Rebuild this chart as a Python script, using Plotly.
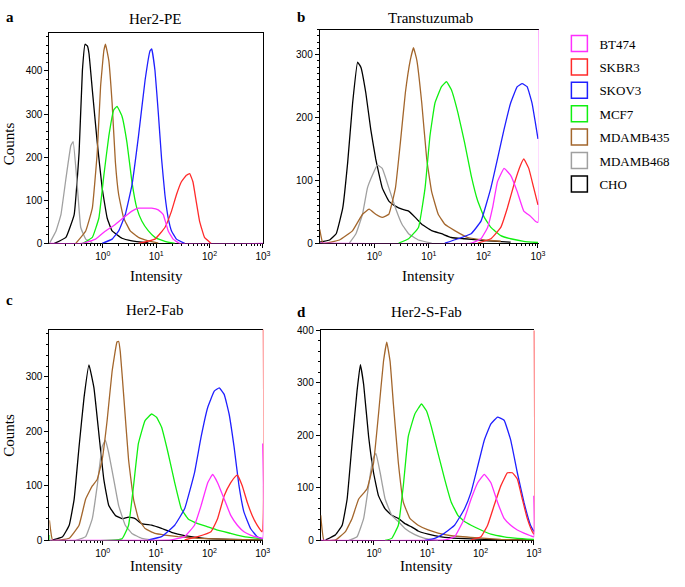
import plotly.graph_objects as go

# ---------------- data: log10(intensity) and counts ----------------
CELL_LINES = ["BT474", "SKBR3", "SKOV3", "MCF7", "MDAMB435", "MDAMB468", "CHO"]
PANEL_TITLES = ["Her2-PE", "Transtuzumab", "Her2-Fab", "Her2-S-Fab"]
PANEL_LETTERS = ["a", "b", "c", "d"]
X_TICK_VALUES = [1, 10, 100, 1000]
X_TICK_LABELS = ["10<sup>0</sup>", "10<sup>1</sup>", "10<sup>2</sup>", "10<sup>3</sup>"]
Y_TICKS_A = [0, 100, 200, 300, 400]
Y_TICKS_B = [0, 100, 200, 300]
Y_TICKS_C = [0, 100, 200, 300]
Y_TICKS_D = [0, 100, 200, 300, 400]

# Panel a: Her2-PE
A_CHO_LOGI = [-0.907, -0.691, -0.536, -0.444, -0.382, -0.332, -0.289, -0.258, -0.196, -0.104, -0.011, 0.082, 0.175, 0.360, 0.546, 0.855]
A_CHO_COUNT = [0, 14, 67, 211, 401, 462, 458, 440, 356, 234, 128, 59, 29, 12, 6, 1]
A_MDAMB468_LOGI = [-1.0, -0.876, -0.784, -0.691, -0.598, -0.555, -0.474, -0.413, -0.320, -0.196]
A_MDAMB468_COUNT = [0, 29, 67, 150, 227, 236, 128, 37, 10, 2]
A_MDAMB435_LOGI = [-0.506, -0.320, -0.196, -0.104, -0.042, 0.020, 0.051, 0.113, 0.175, 0.236, 0.298, 0.391, 0.515, 0.669, 0.855, 1.04]
A_MDAMB435_COUNT = [0, 29, 82, 211, 363, 447, 462, 424, 325, 189, 113, 59, 29, 14, 6, 1]
A_MCF7_LOGI = [-0.382, -0.196, -0.073, 0.020, 0.113, 0.206, 0.267, 0.360, 0.453, 0.546, 0.638, 0.731, 0.855, 0.978, 1.164, 1.349]
A_MCF7_COUNT = [0, 14, 59, 158, 249, 310, 318, 295, 234, 143, 82, 52, 29, 14, 5, 0]
A_SKOV3_LOGI = [-0.011, 0.175, 0.298, 0.422, 0.546, 0.669, 0.793, 0.886, 0.917, 0.978, 1.040, 1.102, 1.164, 1.226, 1.288, 1.380, 1.535]
A_SKOV3_COUNT = [0, 10, 29, 67, 135, 249, 379, 447, 451, 401, 303, 196, 113, 59, 29, 10, 0]
A_SKBR3_LOGI = [0.669, 0.978, 1.164, 1.288, 1.380, 1.473, 1.566, 1.628, 1.689, 1.751, 1.813, 1.906, 2.029]
A_SKBR3_COUNT = [0, 10, 37, 75, 113, 143, 158, 162, 143, 97, 52, 14, 0]
A_BT474_LOGI = [-1.0, -0.382, -0.134, 0.051, 0.236, 0.422, 0.546, 0.669, 0.793, 0.917, 1.040, 1.133, 1.226, 1.318, 1.442, 3.0]
A_BT474_COUNT = [0, 0, 10, 29, 44, 63, 75, 82, 82, 82, 78, 67, 29, 10, 0, 0]

# Panel b: Transtuzumab
B_CHO_LOGI = [-1.0, -0.819, -0.698, -0.578, -0.487, -0.397, -0.306, -0.246, -0.155, -0.065, 0.026, 0.146, 0.267, 0.388, 0.508, 0.629, 0.750, 0.870, 1.051, 1.232, 1.413, 1.655, 2.017, 2.499]
B_CHO_COUNT = [1.5, 5, 15, 56, 129, 223, 288, 280, 239, 181, 134, 88, 67, 59, 54, 51, 41, 30, 20, 15, 9, 7, 4, 1.5]
B_MDAMB468_LOGI = [-0.457, -0.336, -0.216, -0.125, -0.035, 0.056, 0.146, 0.267, 0.388, 0.508, 0.629, 0.810, 1.051]
B_MDAMB468_COUNT = [0, 15, 46, 88, 108, 124, 119, 88, 56, 30, 15, 5, 0]
B_MDAMB435_LOGI = [-1.0, -0.94, -0.638, -0.397, -0.216, -0.095, 0.026, 0.146, 0.267, 0.388, 0.478, 0.569, 0.659, 0.719, 0.780, 0.870, 0.961, 1.051, 1.172, 1.293, 1.474, 1.715, 2.017, 2.318]
B_MDAMB435_COUNT = [22, 0, 5, 20, 46, 54, 46, 41, 46, 88, 160, 239, 291, 311, 291, 223, 134, 82, 46, 30, 20, 9, 5, 3]
B_MCF7_LOGI = [0.448, 0.629, 0.810, 0.931, 1.021, 1.112, 1.232, 1.323, 1.413, 1.534, 1.655, 1.775, 1.896, 2.017, 2.137, 2.318, 2.499, 2.740, 3.0]
B_MCF7_COUNT = [0, 7, 25, 88, 171, 223, 249, 257, 244, 207, 160, 108, 67, 41, 25, 12, 7, 3, 1]
B_SKOV3_LOGI = [1.293, 1.534, 1.775, 1.956, 2.137, 2.258, 2.378, 2.499, 2.620, 2.710, 2.801, 2.891, 2.952, 3.0]
B_SKOV3_COUNT = [0, 7, 15, 35, 88, 134, 181, 223, 249, 254, 249, 223, 192, 166]
B_SKBR3_LOGI = [1.896, 2.137, 2.318, 2.439, 2.559, 2.680, 2.740, 2.831, 2.922, 3.0]
B_SKBR3_COUNT = [0, 7, 25, 56, 93, 124, 134, 119, 88, 61]
B_BT474_LOGI = [-1.0, 1.775, 1.956, 2.077, 2.167, 2.258, 2.378, 2.499, 2.620, 2.740, 2.861, 2.952, 3.0, 3.0]
B_BT474_COUNT = [0, 0, 7, 25, 56, 98, 119, 108, 82, 51, 43, 35, 33, 600]

# Panel c: Her2-Fab
C_CHO_LOGI = [-0.938, -0.753, -0.629, -0.536, -0.444, -0.351, -0.258, -0.165, -0.073, 0.020, 0.113, 0.236, 0.360, 0.484, 0.607, 0.731, 0.917, 1.102, 1.288, 1.535, 1.906, 2.400, 3.0]
C_CHO_COUNT = [1, 7, 28, 76, 172, 262, 322, 280, 196, 112, 64, 46, 40, 43, 40, 31, 28, 22, 15, 9, 4, 2, 1]
C_MDAMB468_LOGI = [-0.505, -0.320, -0.196, -0.104, -0.011, 0.051, 0.113, 0.206, 0.298, 0.422, 0.546, 0.731, 0.978]
C_MDAMB468_COUNT = [0, 7, 40, 100, 172, 184, 160, 112, 64, 28, 13, 4, 0]
C_MDAMB435_LOGI = [-1.0, -0.938, -0.629, -0.444, -0.320, -0.196, -0.104, -0.011, 0.082, 0.175, 0.267, 0.298, 0.329, 0.391, 0.484, 0.577, 0.669, 0.793, 0.978, 1.164, 1.411, 1.782, 2.400, 3.0]
C_MDAMB435_COUNT = [37, 0, 4, 28, 76, 100, 112, 148, 220, 310, 364, 365, 346, 268, 148, 76, 40, 22, 13, 10, 7, 4, 2, 1]
C_MCF7_LOGI = [-1.0, -0.99, 0.360, 0.484, 0.577, 0.669, 0.793, 0.917, 1.009, 1.102, 1.226, 1.349, 1.473, 1.597, 1.782, 1.968, 2.153, 2.400, 2.648, 3.0]
C_MCF7_COUNT = [10, 0, 3, 28, 100, 178, 220, 232, 226, 208, 160, 106, 58, 40, 31, 25, 19, 13, 7, 3]
C_SKOV3_LOGI = [0.855, 1.102, 1.349, 1.535, 1.720, 1.844, 1.968, 2.091, 2.184, 2.277, 2.369, 2.462, 2.555, 2.648, 2.771, 2.895, 3.0]
C_SKOV3_COUNT = [1, 7, 28, 58, 124, 190, 244, 274, 280, 268, 232, 172, 100, 52, 22, 7, 3]
C_SKBR3_LOGI = [1.535, 1.782, 2.029, 2.153, 2.277, 2.400, 2.493, 2.524, 2.617, 2.709, 2.802, 2.895, 2.988, 3.0]
C_SKBR3_COUNT = [1, 7, 16, 40, 82, 106, 118, 120, 100, 70, 46, 28, 16, 600]
C_BT474_LOGI = [-1.0, 1.288, 1.535, 1.720, 1.844, 1.968, 2.060, 2.153, 2.277, 2.400, 2.524, 2.648, 2.771, 2.895, 3.0, 3.0]
C_BT474_COUNT = [0, 1, 7, 28, 64, 106, 121, 106, 76, 46, 28, 16, 10, 6, 4, 178]

# Panel d: Her2-S-Fab
D_CHO_LOGI = [-0.907, -0.721, -0.597, -0.504, -0.411, -0.318, -0.256, -0.194, -0.101, -0.008, 0.085, 0.209, 0.333, 0.457, 0.581, 0.705, 0.829, 1.016, 1.264, 1.574, 2.070, 3.0]
D_CHO_COUNT = [1, 11, 29, 79, 185, 285, 335, 297, 198, 129, 85, 60, 48, 42, 32, 26, 18, 12, 7, 4, 2, 1]
D_MDAMB468_LOGI = [-0.473, -0.318, -0.194, -0.101, -0.026, 0.036, 0.116, 0.209, 0.333, 0.457, 0.581, 0.767, 0.953, 1.202]
D_MDAMB468_COUNT = [0, 7, 42, 104, 154, 166, 129, 79, 48, 36, 23, 11, 4, 0]
D_MDAMB435_LOGI = [-1.0, -0.938, -0.721, -0.535, -0.411, -0.287, -0.132, -0.008, 0.085, 0.178, 0.240, 0.302, 0.364, 0.457, 0.550, 0.674, 0.829, 1.016, 1.202, 1.450, 1.822, 2.380, 3.0]
D_MDAMB435_COUNT = [48, 0, 1, 17, 42, 79, 98, 148, 241, 341, 378, 341, 260, 148, 73, 42, 29, 20, 14, 9, 6, 2, 1]
D_MCF7_LOGI = [0.209, 0.333, 0.457, 0.550, 0.643, 0.767, 0.891, 0.984, 1.078, 1.202, 1.326, 1.450, 1.574, 1.698, 1.822, 2.008, 2.194, 2.442, 2.690, 3.0]
D_MCF7_COUNT = [0, 4, 29, 104, 198, 241, 260, 247, 216, 166, 117, 73, 48, 36, 29, 20, 12, 7, 4, 2]
D_SKOV3_LOGI = [0.953, 1.140, 1.326, 1.512, 1.698, 1.822, 1.946, 2.070, 2.194, 2.318, 2.442, 2.566, 2.690, 2.814, 2.938, 3.0]
D_SKOV3_COUNT = [0, 4, 14, 29, 60, 92, 141, 191, 222, 235, 229, 191, 129, 73, 29, 17]
D_SKBR3_LOGI = [1.822, 2.008, 2.132, 2.256, 2.380, 2.504, 2.597, 2.690, 2.783, 2.876, 2.969, 3.0, 3.0]
D_SKBR3_COUNT = [1, 7, 29, 67, 104, 129, 129, 117, 79, 42, 17, 12, 600]
D_BT474_LOGI = [-1.0, 1.326, 1.512, 1.698, 1.822, 1.946, 2.070, 2.194, 2.318, 2.442, 2.566, 2.690, 2.814, 2.938, 3.0, 3.0]
D_BT474_COUNT = [0, 1, 7, 42, 79, 110, 126, 110, 73, 42, 29, 20, 14, 9, 7, 85]

# ---------------- styling ----------------
COLORS = {
    "BT474": "#ff2eff",
    "SKBR3": "#ff2a2a",
    "SKOV3": "#1f1fff",
    "MCF7": "#10f010",
    "MDAMB435": "#a3662c",
    "MDAMB468": "#a0a0a0",
    "CHO": "#000000",
}
DRAW_ORDER = ["CHO", "MDAMB468", "MDAMB435", "MCF7", "SKOV3", "SKBR3", "BT474"]

PANELS = [
    dict(prefix="A", yrange=[0, 487], yticks=Y_TICKS_A, yminor=20, right_frame=True,
         xdom=[50 / 685, 266 / 685], ydom=[1 - 243 / 587, 1 - 29 / 587]),
    dict(prefix="B", yrange=[0, 340], yticks=Y_TICKS_B, yminor=10, right_frame=False,
         xdom=[323.5 / 685, 545 / 685], ydom=[1 - 242.7 / 587, 1 - 25 / 587]),
    dict(prefix="C", yrange=[0, 387], yticks=Y_TICKS_C, yminor=20, right_frame=False,
         xdom=[50 / 685, 266.5 / 685], ydom=[1 - 545.7 / 587, 1 - 330.7 / 587]),
    dict(prefix="D", yrange=[0, 400], yticks=Y_TICKS_D, yminor=20, right_frame=False,
         xdom=[324.5 / 685, 540.8 / 685], ydom=[1 - 545.7 / 587, 1 - 331.7 / 587]),
]

g = globals()
fig = go.Figure()

minor_x = [m * 10 ** d for d in range(-1, 3) for m in range(2, 10)]

for i, p in enumerate(PANELS, start=1):
    xa = "x" if i == 1 else f"x{i}"
    ya = "y" if i == 1 else f"y{i}"
    for name in DRAW_ORDER:
        logi = g[f"{p['prefix']}_{name}_LOGI"]
        cnt = g[f"{p['prefix']}_{name}_COUNT"]
        fig.add_trace(go.Scatter(
            x=[10 ** v for v in logi], y=cnt, mode="lines",
            line=dict(color=COLORS[name], width=1.3, shape="spline", smoothing=0.3),
            xaxis=xa, yaxis=ya, showlegend=False, hoverinfo="skip",
        ))
    axis_common = dict(showgrid=False, zeroline=False, showline=True, linecolor="black",
                       linewidth=1, ticks="outside", tickcolor="black",
                       tickwidth=1, layer="below traces",
                       tickfont=dict(family="Liberation Sans", size=10, color="black"))
    xmax = 3.0 if p["right_frame"] else 3.012
    fig.update_layout(**{
        ("xaxis" if i == 1 else f"xaxis{i}"): dict(
            type="log", range=[-1, xmax], domain=p["xdom"], mirror=True,
            anchor=ya, tickmode="array", tickvals=X_TICK_VALUES, ticktext=X_TICK_LABELS,
            ticklen=4,
            minor=dict(ticks="outside", ticklen=2, tickcolor="black", tickmode="array",
                       tickvals=minor_x, showgrid=False),
            **axis_common),
        ("yaxis" if i == 1 else f"yaxis{i}"): dict(
            range=p["yrange"], domain=p["ydom"], anchor=xa, mirror=p["right_frame"],
            tickmode="array", tickvals=p["yticks"], ticklen=4,
            minor=dict(ticks="outside", ticklen=2, tickcolor="black", dtick=p["yminor"],
                       showgrid=False),
            **axis_common),
    })

# legend entries (open squares)
for name in CELL_LINES:
    fig.add_trace(go.Scatter(
        x=[None], y=[None], mode="markers", name=name, legendgroup=name,
        marker=dict(symbol="square-open", size=19, color=COLORS[name],
                    line=dict(color=COLORS[name], width=1.5)),
        xaxis="x", yaxis="y", hoverinfo="skip",
    ))

serif = "Liberation Serif"
ann = []
title_pos = [(157, 14), (436, 13), (156, 311), (432, 313)]
letter_pos = [(10, 12), (305, 12), (10, 301), (305, 313)]
for (tx, ty), (lx, ly), t, l in zip(title_pos, letter_pos, PANEL_TITLES, PANEL_LETTERS):
    ann.append(dict(text=t, x=tx / 685, y=1 - ty / 587, xref="paper", yref="paper",
                    showarrow=False, xanchor="center", yanchor="middle",
                    font=dict(family=serif, size=15, color="black")))
    ann.append(dict(text=f"<b>{l}</b>", x=lx / 685, y=1 - ly / 587, xref="paper", yref="paper",
                    showarrow=False, xanchor="center", yanchor="middle",
                    font=dict(family=serif, size=15, color="black")))
for cx, cy in [(158, 276), (434, 276), (158, 572), (432, 572)]:
    ann.append(dict(text="Intensity", x=cx / 685, y=1 - cy / 587, xref="paper", yref="paper",
                    showarrow=False, xanchor="center", yanchor="middle",
                    font=dict(family=serif, size=15, color="black")))
for cx, cy in [(9, 141), (9, 438)]:
    ann.append(dict(text="Counts", x=cx / 685, y=1 - cy / 587, xref="paper", yref="paper",
                    showarrow=False, xanchor="center", yanchor="middle", textangle=-90,
                    font=dict(family=serif, size=15, color="black")))

fig.update_layout(
    width=685, height=587,
    margin=dict(l=0, r=0, t=0, b=0),
    paper_bgcolor="white", plot_bgcolor="white",
    annotations=ann,
    showlegend=True,
    legend=dict(x=566 / 685, y=1 - 24 / 587, xanchor="left", yanchor="top",
                font=dict(family=serif, size=13, color="black"),
                itemsizing="trace", tracegroupgap=3.5, bgcolor="rgba(0,0,0,0)",
                borderwidth=0, traceorder="grouped"),
)

fig.write_html("out.html", config={"displayModeBar": False},
               post_script="document.body.style.margin='0';")
